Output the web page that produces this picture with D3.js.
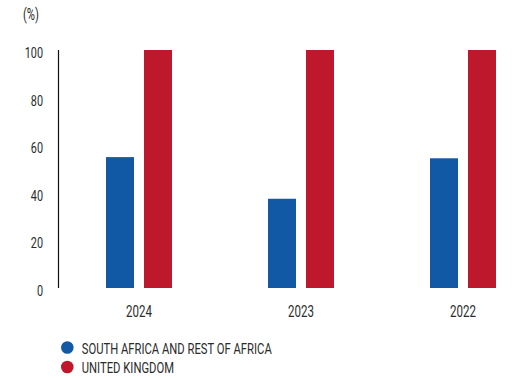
<!DOCTYPE html>
<html>
<head>
<meta charset="utf-8">
<script src="https://cdn.jsdelivr.net/npm/d3@7"></script>
<style>
  body { margin: 0; background: #fff; }
  text { font-family: Roboto, "DejaVu Sans", sans-serif; fill: #2b2b2b; }
</style>
</head>
<body>
<div id="container"></div>
<script>
/* DATA */
const years = ["2024", "2023", "2022"];
const series = ["SOUTH AFRICA AND REST OF AFRICA", "UNITED KINGDOM"];
const africa = [55, 37.5, 54.5];
const uk = [100, 100, 100];
const yTicks = [0, 20, 40, 60, 80, 100];
const colors = ["#1259a5", "#be182d"];

/* CONSTANTS */
const width = 518, height = 378;
const squeeze = 0.7; // condensed look for the labels

const svg = d3.select("#container")
  .append("svg")
  .attr("width", width)
  .attr("height", height)

const rows = years.map((y, i) => ({ year: y, values: [africa[i], uk[i]] }))

// SCALES
const y = d3.scaleLinear().domain([0, 100]).range([288, 50])
const x0 = d3.scaleBand().domain(years).range([58, 544])
const x1 = d3.scaleBand().domain(series).range([-33, 33]).paddingInner(2 - 66 / 38)

// Y AXIS
svg.append("line")
  .attr("x1", 58.5).attr("x2", 58.5)
  .attr("y1", y(100)).attr("y2", y(0))
  .attr("stroke", "#111").attr("stroke-width", 1.2)

svg.selectAll("text.ytick")
  .data(yTicks)
  .join("text")
  .attr("class", "ytick")
  .attr("transform", d => `translate(43,${y(d) + 8}) scale(${squeeze},1)`)
  .attr("text-anchor", "end")
  .attr("font-size", 15.5)
  .text(d => d)

svg.append("text")
  .attr("transform", `translate(23,20) scale(${squeeze},1)`)
  .attr("font-size", 16)
  .text("(%)")

// BARS
const groups = svg.selectAll("g.year")
  .data(rows)
  .join("g")
  .attr("class", "year")
  .attr("transform", d => `translate(${x0(d.year) + x0.bandwidth() / 2},0)`)

groups.selectAll("rect")
  .data(d => d.values.map((v, i) => ({ key: series[i], value: v, i })))
  .join("rect")
  .attr("x", d => x1(d.key))
  .attr("width", x1.bandwidth())
  .attr("y", d => y(d.value))
  .attr("height", d => y(0) - y(d.value))
  .attr("fill", d => colors[d.i])

groups.append("text")
  .attr("transform", `translate(0,317) scale(${squeeze},1)`)
  .attr("text-anchor", "middle")
  .attr("font-size", 16.5)
  .text(d => d.year)

// LEGEND
const legend = svg.selectAll("g.legend")
  .data(series)
  .join("g")
  .attr("class", "legend")
  .attr("transform", (d, i) => `translate(67.3,${347.5 + i * 19.5})`)

legend.append("circle")
  .attr("r", 6.3)
  .attr("fill", (d, i) => colors[i])

legend.append("text")
  .attr("transform", `translate(14.5,6) scale(0.75,1)`)
  .attr("font-size", 15)
  .text(d => d)
</script>
</body>
</html>
